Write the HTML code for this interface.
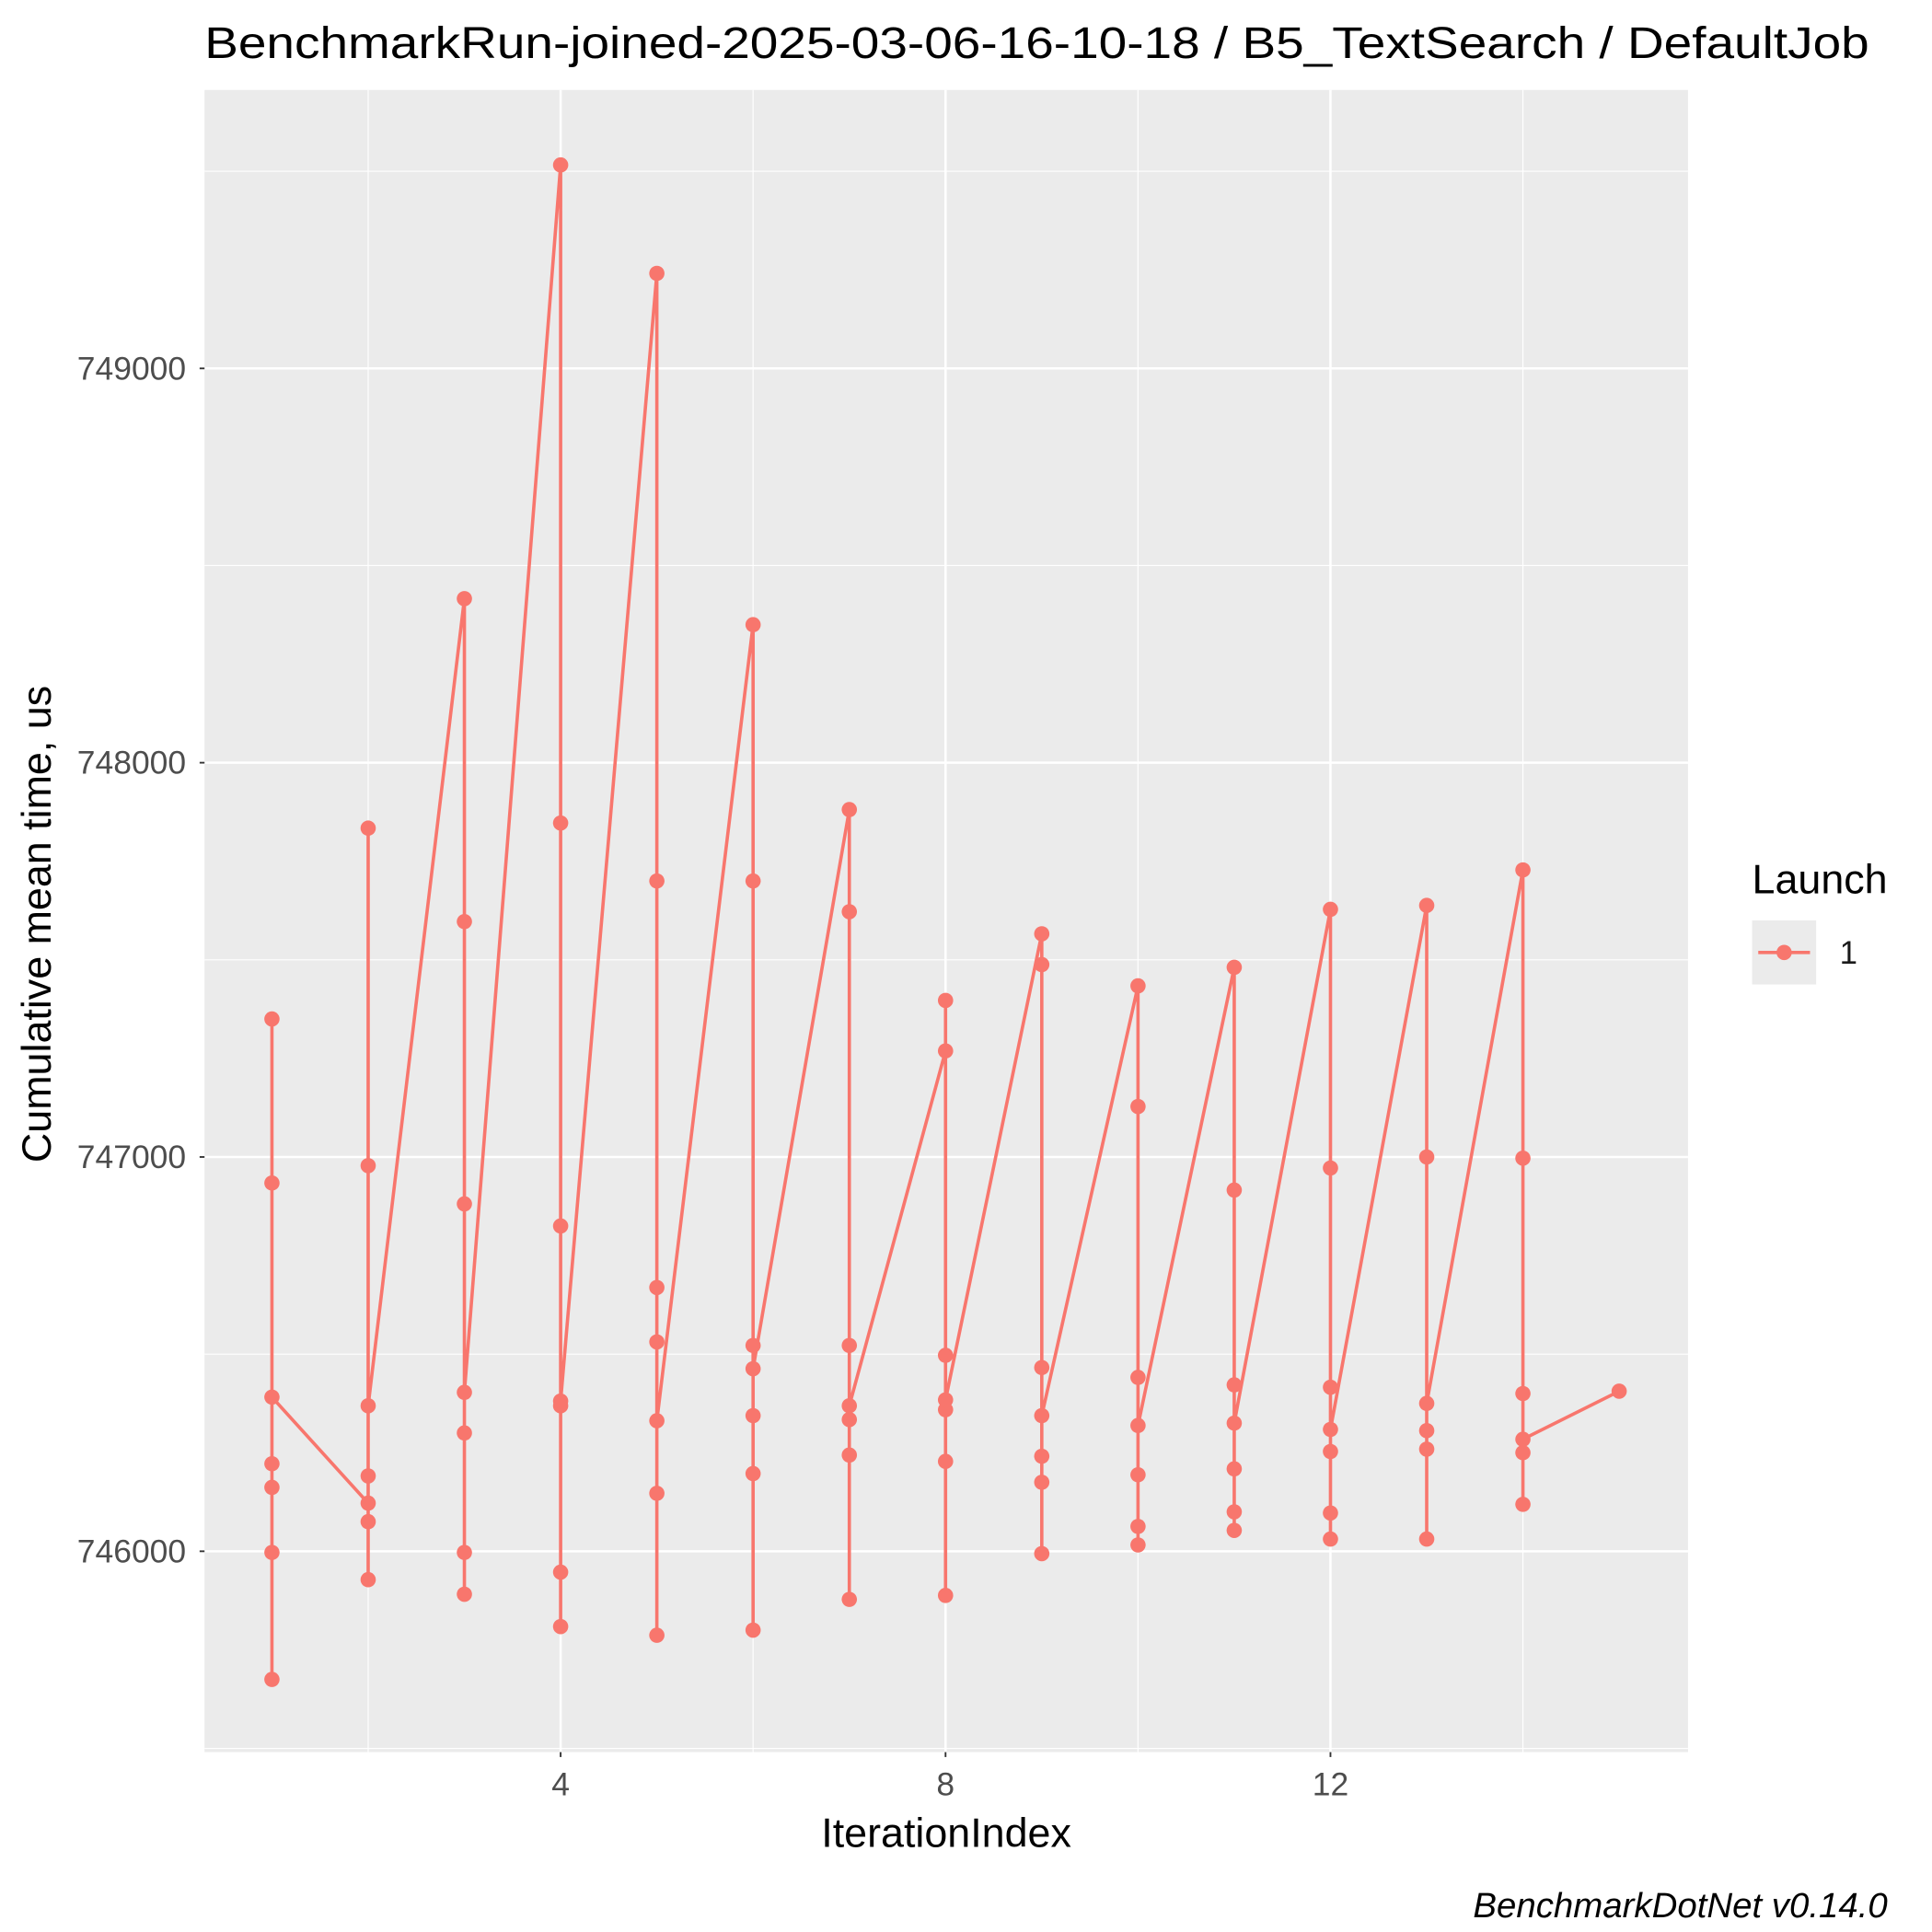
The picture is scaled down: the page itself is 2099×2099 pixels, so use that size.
<!DOCTYPE html>
<html><head><meta charset="utf-8"><style>
html,body{margin:0;padding:0;background:#fff;}
svg{display:block;font-family:"Liberation Sans",Arial,sans-serif;}
</style></head><body>
<svg id="chart" width="2099" height="2099" viewBox="0 0 1568 1568" xmlns="http://www.w3.org/2000/svg">
<rect width="1568" height="1568" fill="#fff"/>
<text x="166" y="47" font-size="36" textLength="1351" lengthAdjust="spacingAndGlyphs" fill="#000">BenchmarkRun-joined-2025-03-06-16-10-18 / B5_TextSearch / DefaultJob</text>
<rect x="166" y="73" width="1204" height="1349" fill="#ebebeb"/>
<g id="grid"></g>
<g id="series"></g>
<g id="axes"></g>
<text x="768" y="1499" font-size="33.5" text-anchor="middle" fill="#000">IterationIndex</text>
<text transform="translate(41,750) rotate(-90)" font-size="33.5" text-anchor="middle" fill="#000">Cumulative mean time, us</text>
<g>
<text x="1422" y="725" font-size="33.5" fill="#000">Launch</text>
<rect x="1422" y="747" width="52" height="52" fill="#ebebeb"/>
<line x1="1427" y1="773" x2="1469" y2="773" stroke="#F8766D" stroke-width="2.7"/>
<circle cx="1448" cy="773" r="6.2" fill="#F8766D"/>
<text x="1493" y="782" font-size="26" fill="#1a1a1a">1</text>
</g>
<text x="1532" y="1556" font-size="28.7" font-style="italic" text-anchor="end" fill="#000">BenchmarkDotNet v0.14.0</text>
</svg>
<script>
const xTicks = [4, 8, 12];
const yTicks = [746000, 747000, 748000, 749000];
const xs = [1,1,1,1,1,1,1, 2,2,2,2,2,2,2, 3,3,3,3,3,3,3, 4,4,4,4,4,4,4, 5,5,5,5,5,5,5, 6,6,6,6,6,6,6, 7,7,7,7,7,7,7, 8,8,8,8,8,8,8, 9,9,9,9,9,9,9, 10,10,10,10,10,10,10, 11,11,11,11,11,11,11, 12,12,12,12,12,12,12, 13,13,13,13,13,13, 14,14,14,14,14,14, 15];
const ys = [747350,746934,746222,746162,745997,745675,746391,
 746122,747834,746978,746191,746075,745928,746369,
 748416,747597,746881,746300,745997,745891,746403,
 749516,747847,746825,746369,745947,745809,746381,
 749241,747700,746669,746531,746147,745787,746331,
 748350,747700,746522,746344,746197,745800,746463,
 747881,747622,746522,746334,746244,745878,746369,
 747269,747397,746497,746359,746228,745888,746384,
 747566,747488,746466,746241,746175,745994,746344,
 747434,747128,746441,746194,746063,746016,746319,
 747481,746916,746422,746209,746100,746053,746325,
 747628,746972,746416,746253,746097,746031,746309,
 747638,747000,746306,746259,746031,746375,
 747728,746997,746400,746250,746119,746284,
 746406];
const NS = "http://www.w3.org/2000/svg";
const px = v => 455 + (v - 4) * 78.1;
const py = v => 1259 - (v - 746000) * 0.32;
const P = {l:166, r:1370, t:73, b:1422};
function mk(tag, attrs, parent){const e=document.createElementNS(NS,tag);for(const k in attrs)e.setAttribute(k,attrs[k]);parent.appendChild(e);return e;}
const grid=document.getElementById('grid'), axes=document.getElementById('axes'), series=document.getElementById('series');
for(let v=745500; v<=749500; v+=1000){const y=py(v);if(y<P.t||y>P.b)continue;
 const l=mk('line',{x1:P.l,x2:P.r,y1:y,y2:y,stroke:'#fff','stroke-width':0.9},grid);
 
 }
for(let v=2; v<=14; v+=4){const x=px(v);
 const l=mk('line',{x1:x,x2:x,y1:P.t,y2:P.b,stroke:'#fff','stroke-width':0.9},grid);
 
 }
yTicks.forEach(v=>{const y=py(v);
 const l=mk('line',{x1:P.l,x2:P.r,y1:y,y2:y,stroke:'#fff','stroke-width':1.9},grid);
 
 
 mk('line',{x1:P.l-4,x2:P.l,y1:y,y2:y,stroke:'#333','stroke-width':1.4},axes);
 const t=mk('text',{x:P.l-15,y:y+9,'font-size':26.5,'text-anchor':'end',fill:'#4d4d4d'},axes);
 t.textContent=v;
 
 });
xTicks.forEach(v=>{const x=px(v);
 const l=mk('line',{x1:x,x2:x,y1:P.t,y2:P.b,stroke:'#fff','stroke-width':1.9},grid);
 
 
 mk('line',{x1:x,x2:x,y1:P.b,y2:P.b+4,stroke:'#333','stroke-width':1.4},axes);
 const t=mk('text',{x:x,y:P.b+35,'font-size':26.5,'text-anchor':'middle',fill:'#4d4d4d'},axes);
 t.textContent=v;
 
 });
const pts=xs.map((x,i)=>px(x).toFixed(1)+','+py(ys[i]).toFixed(1)).join(' ');
const line=mk('polyline',{points:pts,fill:'none',stroke:'#F8766D','stroke-width':2.7},series);


xs.forEach((x,i)=>{const c=mk('circle',{cx:px(x),cy:py(ys[i]),r:6.2,fill:'#F8766D'},series);
 
 });
</script>
</body></html>
